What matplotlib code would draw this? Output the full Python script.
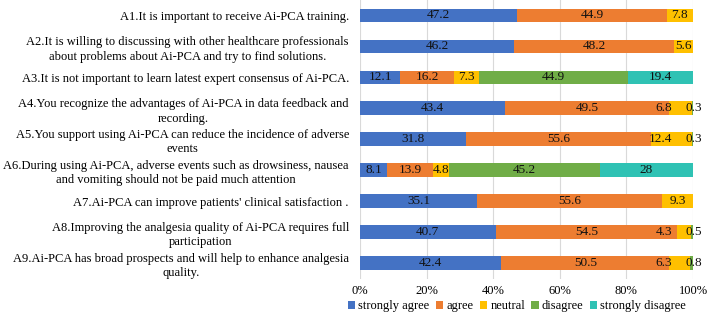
import matplotlib
matplotlib.use("Agg")
import matplotlib.pyplot as plt
import numpy as np

plt.rcParams['font.family'] = ['Liberation Serif', 'DejaVu Serif']

questions = [
    "A1.It is important to receive Ai-PCA training.",
    "A2.It is willing to discussing with other healthcare professionals\nabout problems about Ai-PCA and try to find solutions.",
    "A3.It is not important to learn latest expert consensus of Ai-PCA.",
    "A4.You recognize the advantages of Ai-PCA in data feedback and\nrecording.",
    "A5.You support using Ai-PCA can reduce the incidence of adverse\nevents",
    "A6.During using Ai-PCA, adverse events such as drowsiness, nausea\nand vomiting should not be paid much attention",
    "A7.Ai-PCA can improve patients' clinical satisfaction .",
    "A8.Improving the analgesia quality of Ai-PCA requires full\nparticipation",
    "A9.Ai-PCA has broad prospects and will help to enhance analgesia\nquality.",
]
categories = ["strongly agree", "agree", "neutral", "disagree", "strongly disagree"]
strongly_agree = [47.2, 46.2, 12.1, 43.4, 31.8, 8.1, 35.1, 40.7, 42.4]
agree = [44.9, 48.2, 16.2, 49.5, 55.6, 13.9, 55.6, 54.5, 50.5]
neutral = [7.8, 5.6, 7.3, 6.8, 12.4, 4.8, 9.3, 4.3, 6.3]
disagree = [0, 0, 44.9, 0.3, 0.3, 45.2, 0, 0.5, 0.8]
strongly_disagree = [0, 0, 19.4, 0, 0, 28, 0, 0, 0]
tick_labels = ["0%", "20%", "40%", "60%", "80%", "100%"]

colors = ["#4472C4", "#ED7D31", "#FFC000", "#70AD47", "#2FC2B4"]

fig = plt.figure(figsize=(7.08, 3.22), dpi=100)
ax = fig.add_axes([360/708, 1 - 278.5/322, 333/708, 278.5/322])

series = [strongly_agree, agree, neutral, disagree, strongly_disagree]
y = np.arange(len(questions))
left = np.zeros(len(questions))
fs = 9.0
for s, (vals, col, name) in enumerate(zip(series, colors, categories)):
    vals = np.array(vals, dtype=float)
    ax.barh(y, vals, left=left, height=0.44, color=col, label=name, zorder=2)
    for i, v in enumerate(vals):
        if v <= 0:
            continue
        cx = left[i] + v / 2
        ha = 'center'
        if s == 2 and 0 < disagree[i] < 1:
            cx = 93.8
            ha = 'right'
        if s == 3 and v < 1:
            cx = 100.3
        ax.text(cx, i, f"{v:g}", ha=ha, va='center', fontsize=9.5, color='#111111', zorder=3)
    left += vals

ax.set_xlim(0, 100)
ax.set_ylim(len(questions) - 0.5, -0.5)
ax.set_yticks(y)
ax.set_yticklabels(questions, fontsize=fs, multialignment='center', linespacing=1.3)
ax.set_xticks(np.arange(0, 101, 20))
ax.set_xticklabels(tick_labels, fontsize=fs)
ax.tick_params(axis='x', length=0, pad=5)
ax.tick_params(axis='y', length=0, pad=8)
ax.grid(axis='x', color='#d9d9d9', linewidth=0.8, zorder=0)
for sp in ax.spines.values():
    sp.set_visible(False)

fig.legend(loc='center', bbox_to_anchor=(517/708, 1 - 306/322), ncol=5, frameon=False,
           fontsize=fs, handlelength=0.6, handleheight=0.6, handletextpad=0.25, columnspacing=0.5)

fig.savefig("out.png", dpi=100)
